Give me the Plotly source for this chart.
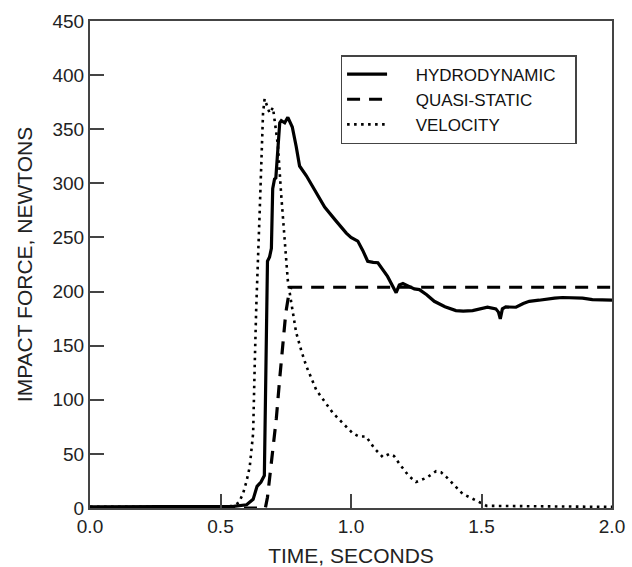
import plotly.graph_objects as go

# Hydrodynamic impact force
t_hydro = [0, 0.3, 0.55, 0.6, 0.625, 0.64, 0.655, 0.668, 0.674, 0.68, 0.688, 0.695,
           0.70, 0.707, 0.712, 0.72, 0.727, 0.733, 0.746, 0.758, 0.775, 0.79, 0.803,
           0.829, 0.85, 0.87, 0.899, 0.94, 0.982, 1.0, 1.026, 1.045, 1.064, 1.085,
           1.103, 1.14, 1.173, 1.185, 1.199, 1.22, 1.243, 1.262, 1.29, 1.319, 1.36,
           1.402, 1.43, 1.466, 1.5, 1.523, 1.555, 1.565, 1.572, 1.58, 1.593, 1.632,
           1.66, 1.683, 1.72, 1.746, 1.78, 1.81, 1.85, 1.887, 1.925, 1.96, 2.0]
f_hydro = [1, 1, 1.5, 3, 8, 20, 24, 30, 120, 228, 232, 240,
           295, 304, 305, 330, 356, 358, 356, 361, 352, 334, 316,
           307, 298, 290, 278, 266, 254, 250, 246.6, 238, 228, 227,
           226.6, 214, 199, 206, 207.4, 205, 202.5, 201.8, 197, 191, 186,
           182.4, 182, 182.4, 184, 185.5, 184, 181, 174.7, 184, 185.8, 185.5,
           189, 191, 192, 193, 194, 194.5, 194.5, 194, 192.5, 192, 192]

# Quasi-static force
t_quasi = [0, 0.6, 0.672, 0.68, 0.69, 0.70, 0.714, 0.727, 0.739, 0.75, 0.76, 0.77, 2.0]
f_quasi = [0, 0, 0, 10, 30, 52, 83, 120, 155, 180, 195, 204, 204]

# Velocity
t_vel = [0, 0.5, 0.55, 0.57, 0.586, 0.6, 0.612, 0.625, 0.631, 0.637, 0.65, 0.656,
         0.663, 0.669, 0.676, 0.688, 0.701, 0.707, 0.72, 0.733, 0.746, 0.758, 0.771,
         0.79, 0.81, 0.829, 0.867, 0.93, 0.97, 1.007, 1.03, 1.058, 1.09, 1.122,
         1.147, 1.165, 1.185, 1.22, 1.249, 1.29, 1.326, 1.345, 1.364, 1.4, 1.428,
         1.479, 1.52, 2.0]
f_vel = [1, 1, 2, 5, 13, 25, 38, 69, 131, 186, 273, 319,
         365, 378, 373, 365, 370, 359, 335, 288, 248, 210, 190,
         162, 145, 131, 109, 88, 78, 69, 66, 66, 55, 47,
         50, 48, 41, 30, 24, 28, 34, 33, 29, 20, 13,
         7, 2, 1]

series_names = ["HYDRODYNAMIC", "QUASI-STATIC", "VELOCITY"]
x_ticks = [0.0, 0.5, 1.0, 1.5, 2.0]
x_ticklabels = ["0.0", "0.5", "1.0", "1.5", "2.0"]
y_ticks = [0, 50, 100, 150, 200, 250, 300, 350, 400, 450]

FONT = "Liberation Sans, Arial, sans-serif"
AX = "#444444"
PAD = "\u00a0\u00a0\u00a0\u00a0\u00a0"
TAIL = "\u00a0\u00a0\u00a0"

fig = go.Figure()
fig.add_trace(go.Scatter(x=t_hydro, y=f_hydro, mode="lines", name=PAD + series_names[0] + TAIL,
                         line=dict(color="black", width=3.2, dash="solid")))
fig.add_trace(go.Scatter(x=t_quasi, y=f_quasi, mode="lines", name=PAD + series_names[1],
                         line=dict(color="black", width=3.2, dash="13px,9px")))
fig.add_trace(go.Scatter(x=t_vel, y=f_vel, mode="lines", name=PAD + series_names[2],
                         line=dict(color="black", width=2.6, dash="2.6px,4.4px")))

fig.update_layout(
    width=632, height=567,
    margin=dict(l=90, r=20, t=21, b=59),
    paper_bgcolor="white", plot_bgcolor="white",
    font=dict(family=FONT, size=19, color="#222222"),
    showlegend=True,
    legend=dict(x=0.48, y=0.93, xanchor="left", yanchor="top",
                bgcolor="white", bordercolor=AX, borderwidth=1.5,
                font=dict(family=FONT, size=17, color="#111111"),
                tracegroupgap=0, itemwidth=40),
)
fig.update_xaxes(range=[0, 2], tickvals=x_ticks, ticktext=x_ticklabels,
                 ticks="inside", ticklen=14, tickwidth=1.5, tickcolor=AX,
                 showline=True, linecolor=AX, linewidth=2, mirror=True,
                 showgrid=False, zeroline=False, automargin=False,
                 title=dict(text="TIME, SECONDS", font=dict(size=21), standoff=16),
                 tickfont=dict(size=19))
fig.update_yaxes(range=[0, 450], tickvals=y_ticks,
                 ticks="inside", ticklen=14, tickwidth=1.5, tickcolor=AX,
                 showline=True, linecolor=AX, linewidth=2, mirror=True,
                 showgrid=False, zeroline=False, automargin=False,
                 title=dict(text="IMPACT FORCE, NEWTONS", font=dict(size=21), standoff=14),
                 tickfont=dict(size=19))

fig.write_html("out.html")
